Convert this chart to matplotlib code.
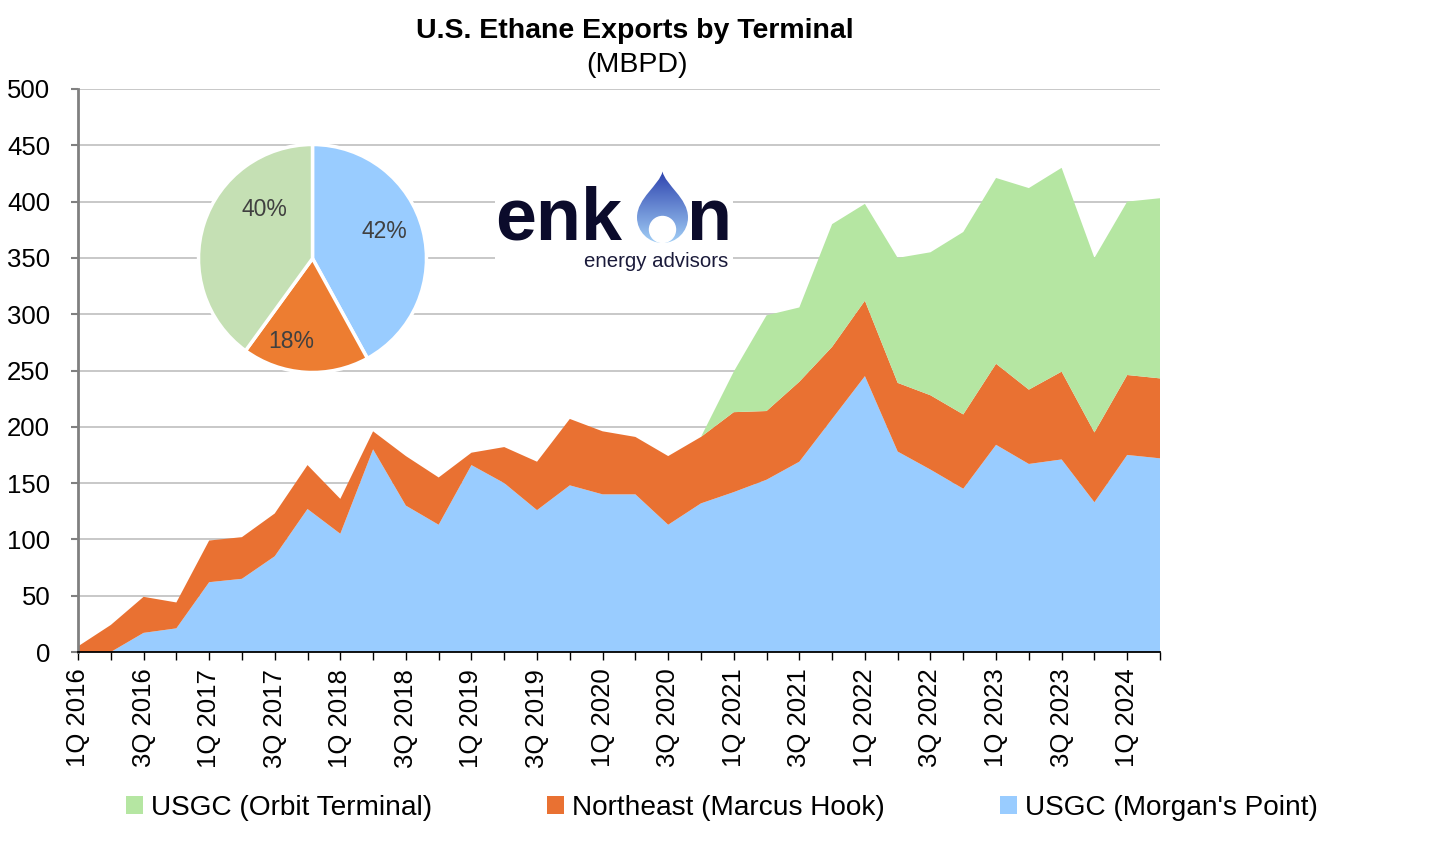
import matplotlib
matplotlib.use('Agg')
import matplotlib.pyplot as plt
import numpy as np
from matplotlib.path import Path
from matplotlib.patches import PathPatch, Circle
from matplotlib.colors import to_rgb

plt.rcParams['font.family'] = ['Liberation Sans', 'DejaVu Sans']

# quarterly exports, MBPD
quarters = [f"{q}Q {y}" for y in range(2016, 2025) for q in range(1, 5)][:34]
morgans_point = [0, 0, 17, 21, 62, 65, 85, 127, 105, 180, 130, 113, 166, 150, 126, 148, 140,
                 140, 113, 132, 142, 153, 169, 207, 245, 178, 162, 145, 184, 167, 171, 133, 175, 172]
marcus_hook = [5, 24, 32, 23, 37, 37, 38, 39, 31, 16, 44, 42, 11, 32, 43, 59, 56,
               51, 61, 59, 71, 61, 71, 64, 67, 61, 66, 66, 72, 66, 78, 62, 71, 71]
orbit = [0, 0, 0, 0, 0, 0, 0, 0, 0, 0, 0, 0, 0, 0, 0, 0, 0,
         0, 0, 0, 36, 85, 66, 109, 86, 111, 127, 162, 165, 179, 181, 155, 154, 160]
series_names = ["USGC (Morgan's Point)", "Northeast (Marcus Hook)", "USGC (Orbit Terminal)"]

# share pie (Morgan's Point, Marcus Hook, Orbit)
shares = [42, 18, 40]

blue = '#99CCFF'
orange = '#E97132'
green = '#B5E6A2'
pie_colors = ['#99CCFF', '#ED7D31', '#C5E0B4']

W, H = 1444, 851
fig = plt.figure(figsize=(W / 100, H / 100), dpi=100)

##########################################################################
# main stacked area
ax = fig.add_axes([78 / W, 1 - 652 / H, (1160 - 78) / W, (652 - 89) / H])
x = np.arange(len(quarters))
polys = ax.stackplot(x, morgans_point, marcus_hook, orbit,
                     colors=[blue, orange, green], linewidth=0, labels=series_names)
ax.set_xlim(0, len(quarters) - 1)
ax.set_ylim(0, 500)
ax.set_yticks(range(0, 501, 50))
ax.set_xticks(x)
ax.set_xticklabels([q if i % 2 == 0 else '' for i, q in enumerate(quarters)])
ax.yaxis.grid(True, color='#BFBFBF', lw=1.2)
ax.set_axisbelow(True)
for s in ['top', 'right']:
    ax.spines[s].set_visible(False)
ax.spines['left'].set_color('#808080')
ax.spines['left'].set_linewidth(2)
ax.spines['bottom'].set_color('black')
ax.spines['bottom'].set_linewidth(1.3)
ax.tick_params(axis='y', color='#808080', width=1.5, length=5, pad=15,
               labelsize=18.5, labelcolor='black')
ax.tick_params(axis='x', color='black', width=1, length=6, pad=6,
               labelsize=18.5, labelrotation=90)

fig.text(635 / W, 1 - 31 / H, 'U.S. Ethane Exports by Terminal', ha='center', va='center',
         fontsize=20.5, fontweight='bold')
fig.text(637 / W, 1 - 65 / H, '(MBPD)', ha='center', va='center', fontsize=20.5)

##########################################################################
# pie inset
r = 114
cx, cy = 312.5, 258.5
pax = fig.add_axes([(cx - r) / W, 1 - (cy + r) / H, 2 * r / W, 2 * r / H])
wedges, texts, autotexts = pax.pie(shares, colors=pie_colors, startangle=90, counterclock=False,
                                   autopct=lambda p: f'{p:.0f}%',
                                   wedgeprops=dict(edgecolor='white', linewidth=2.5),
                                   textprops=dict(fontsize=16.5, color='#404040'))
for t, pos in zip(autotexts, [(0.63, 0.24), (-0.19, -0.73), (-0.42, 0.43)]):
    t.set_position(pos)
pax.set_xlim(-1.0, 1.0)
pax.set_ylim(-1.0, 1.0)

##########################################################################
# logo
lax = fig.add_axes([495 / W, 1 - 280 / H, (733 - 495) / W, (280 - 165) / H])
lax.set_facecolor('white')
lax.set_xticks([])
lax.set_yticks([])
for s in lax.spines.values():
    s.set_visible(False)
navy = '#0B0B2B'
lax.text(495, 240, 'enk', fontsize=53, fontweight='bold', color=navy, va='baseline', ha='left')
lax.text(687, 240, 'n', fontsize=53, fontweight='bold', color=navy, va='baseline', ha='left')

dc = 662.5
verts = [(dc, 171.5),
         (dc + 3, 185), (dc + 25.5, 198), (dc + 25.5, 217.5),
         (dc + 25.5, 231.5), (dc + 14, 243), (dc, 243),
         (dc - 14, 243), (dc - 25.5, 231.5), (dc - 25.5, 217.5),
         (dc - 25.5, 198), (dc - 3, 185), (dc, 171.5),
         (dc, 171.5)]
codes = [Path.MOVETO] + [Path.CURVE4] * 12 + [Path.CLOSEPOLY]
drop = PathPatch(Path(verts, codes), facecolor='none', edgecolor='none')
lax.add_patch(drop)
c_top, c_bot = np.array(to_rgb('#2C41AD')), np.array(to_rgb('#A3D0F7'))
t = np.linspace(0, 1, 100)[:, None, None]
grad = c_top * (1 - t) + c_bot * t
im = lax.imshow(grad, extent=(dc - 27, dc + 27, 244, 170), origin='upper', aspect='auto')
im.set_clip_path(drop)
lax.add_patch(Circle((dc, 229.5), 13, color='white'))
lax.text(728, 267, 'energy advisors', fontsize=14.7, color='#1A1A3A', ha='right', va='baseline')
lax.set_xlim(495, 733)
lax.set_ylim(280, 165)

##########################################################################
handles = polys[::-1]
fig.legend(handles, series_names[::-1], loc='center', bbox_to_anchor=(0.5, 43 / H), ncol=3,
           frameon=False, fontsize=20.2, handlelength=0.6, handleheight=0.6,
           handletextpad=0.3, columnspacing=4.1)

fig.savefig('out.png', dpi=100)
